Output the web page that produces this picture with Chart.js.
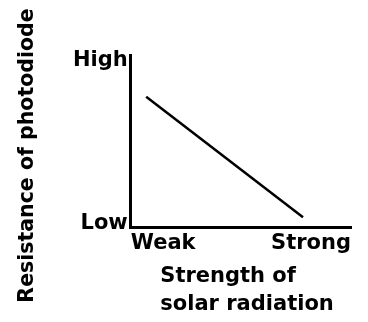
<!DOCTYPE html>
<html>
<head>
<meta charset="utf-8">
<script src="https://cdn.jsdelivr.net/npm/chart.js@4"></script>
<style>
  html, body { margin: 0; padding: 0; background: #fff; }
  #wrap { width: 368px; height: 322px; }
</style>
</head>
<body>
<div id="wrap"><canvas id="chart"></canvas></div>
<script>
// values (both axes run 0..1, no units)
const strength = [0.070, 0.782];
const resistance = [0.758, 0.061];
const xTickValues = [0, 1];
const xTickLabels = ["Weak", "Strong"];
const yTickValues = [0.023, 0.968];
const yTickLabels = ["Low", "High"];
const xTitle = ["Strength of", "solar radiation"];
const yTitle = "Resistance of photodiode";

const FONT = '"DejaVu Sans", sans-serif';

// axis titles drawn by hand: the x one is left aligned, the y one sits lower than centre
const axisTitles = {
  id: "axisTitles",
  afterDraw(chart) {
    const { ctx, chartArea } = chart;
    ctx.save();
    ctx.fillStyle = "#000";
    ctx.font = "bold 21px " + FONT;
    ctx.textBaseline = "alphabetic";

    ctx.textAlign = "left";
    xTitle.forEach((line, i) => {
      ctx.fillText(line, chartArea.left + 29.5, chartArea.bottom + 54.5 + i * 28);
    });

    ctx.font = "bold 20.5px " + FONT;
    ctx.translate(33, 155.5);
    ctx.rotate(-Math.PI / 2);
    ctx.textAlign = "center";
    ctx.fillText(yTitle, 0, 0);
    ctx.restore();
  }
};

const ctx = document.getElementById("chart").getContext("2d");
const chart = new Chart(ctx, {
  type: "line",
  data: {
    datasets: [{
      data: strength.map((x, i) => ({ x: x, y: resistance[i] })),
      borderColor: "#000",
      borderWidth: 2.5,
      pointRadius: 0,
      tension: 0
    }]
  },
  options: {
    responsive: true,
    maintainAspectRatio: false,
    animation: false,
    layout: { padding: { left: 70, top: 55, right: 17, bottom: 63 } },
    plugins: { legend: { display: false }, tooltip: { enabled: false } },
    scales: {
      x: {
        type: "linear",
        min: 0,
        max: 1,
        afterBuildTicks: axis => { axis.ticks = xTickValues.map(v => ({ value: v })); },
        ticks: {
          align: "inner",
          padding: 3,
          color: "#000",
          font: { family: FONT, size: 21, weight: "bold" },
          callback: (v) => xTickLabels[xTickValues.indexOf(v)]
        },
        grid: { display: false, drawTicks: false },
        border: { display: true, color: "#000", width: 3 }
      },
      y: {
        type: "linear",
        min: 0,
        max: 1,
        afterBuildTicks: axis => { axis.ticks = yTickValues.map(v => ({ value: v })); },
        ticks: {
          padding: 3,
          color: "#000",
          font: { family: FONT, size: 21, weight: "bold" },
          callback: (v) => yTickLabels[yTickValues.indexOf(v)]
        },
        grid: { display: false, drawTicks: false },
        border: { display: true, color: "#000", width: 3 }
      }
    }
  },
  plugins: [axisTitles]
});
</script>
</body>
</html>
